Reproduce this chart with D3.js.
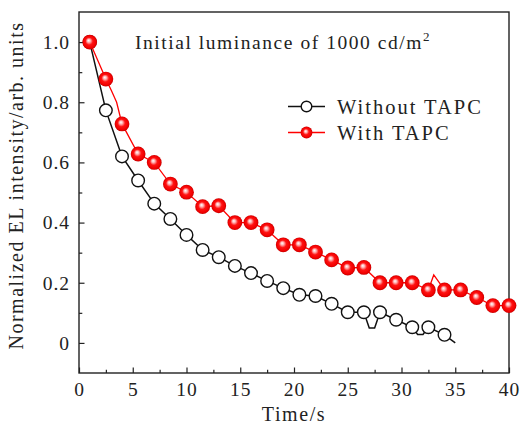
<!DOCTYPE html>
<html>
<head>
<meta charset="utf-8">
<script src="https://cdn.jsdelivr.net/npm/d3@7"></script>
<style>
  html, body { margin: 0; padding: 0; background: #fff; }
  svg { display: block; }
  text { font-family: "Liberation Serif", "Times New Roman", serif; fill: #222; }
</style>
</head>
<body>
<svg id="chart" width="520" height="429"></svg>
<script>
// ---- data ----
const times = [1, 2.5, 4, 5.5, 7, 8.5, 10, 11.5, 13, 14.5, 16, 17.5, 19, 20.5, 22, 23.5, 25, 26.5, 28, 29.5, 31, 32.5, 34, 35.5, 37, 38.5, 40];
const withTAPC = [1.0, 0.877, 0.728, 0.628, 0.6, 0.528, 0.501, 0.453, 0.456, 0.40, 0.40, 0.376, 0.326, 0.326, 0.302, 0.276, 0.249, 0.251, 0.2, 0.2, 0.2, 0.176, 0.176, 0.176, 0.151, 0.124, 0.124];
const withoutTAPC = [1.0, 0.773, 0.62, 0.54, 0.463, 0.412, 0.359, 0.309, 0.285, 0.256, 0.232, 0.206, 0.182, 0.16, 0.156, 0.13, 0.102, 0.102, 0.102, 0.077, 0.052, 0.052, 0.027];
// extra line vertices (between markers)
const withLineExtra = [[3, 0.84], [3.5, 0.80], [33, 0.226]];
const withoutLineExtra = [[27, 0.05], [27.5, 0.05], [31.5, 0.028], [32, 0.028], [35, 0.0]];
const seriesNames = ["Without TAPC", "With TAPC"];
const xTicks = [0, 5, 10, 15, 20, 25, 30, 35, 40];
const xTickLabels = ["0", "5", "10", "15", "20", "25", "30", "35", "40"];
const xMinor = [2.5, 7.5, 12.5, 17.5, 22.5, 27.5, 32.5, 37.5];
const yTicks = [0, 0.2, 0.4, 0.6, 0.8, 1.0];
const yTickLabels = ["0", "0.2", "0.4", "0.6", "0.8", "1.0"];
const yMinor = [0.1, 0.3, 0.5, 0.7, 0.9];
const xTitle = "Time/s";
const yTitle = "Normalized EL intensity/arb. units";
const annotation = "Initial luminance of 1000 cd/m";
const annotationSup = "2";

// ---- layout ----
const L = 79, R = 509, T = 12, B = 373;
const FONT = '"Liberation Serif", "Times New Roman", serif';
const svg = d3.select("#chart");
const x = d3.scaleLinear().domain([0, 40]).range([L, R]);
const y = d3.scaleLinear().domain([-0.1, 1.1]).range([B, T]);

const defs = svg.append("defs");
const g = defs.append("radialGradient").attr("id", "ball")
  .attr("cx", "50%").attr("cy", "50%").attr("r", "50%").attr("fx", "42%").attr("fy", "38%");
g.append("stop").attr("offset", "0%").attr("stop-color", "#ffffff");
g.append("stop").attr("offset", "22%").attr("stop-color", "#ffb4b4");
g.append("stop").attr("offset", "50%").attr("stop-color", "#ff1212");
g.append("stop").attr("offset", "85%").attr("stop-color", "#f00000");
g.append("stop").attr("offset", "100%").attr("stop-color", "#c40000");

// axes (inward ticks)
const fmtX = (d) => xTickLabels[xTicks.indexOf(d)];
const fmtY = (d) => yTickLabels[yTicks.indexOf(d)];

const ax = svg.append("g").attr("transform", `translate(0,${B})`)
  .call(d3.axisBottom(x).tickValues(xTicks).tickFormat(fmtX).tickSizeInner(-5.5).tickSizeOuter(0).tickPadding(9));
const axm = svg.append("g").attr("transform", `translate(0,${B})`)
  .call(d3.axisBottom(x).tickValues(xMinor).tickFormat("").tickSizeInner(-3.3).tickSizeOuter(0));
const ay = svg.append("g").attr("transform", `translate(${L},0)`)
  .call(d3.axisLeft(y).tickValues(yTicks).tickFormat(fmtY).tickSizeInner(-5.5).tickSizeOuter(0).tickPadding(9));
const aym = svg.append("g").attr("transform", `translate(${L},0)`)
  .call(d3.axisLeft(y).tickValues(yMinor).tickFormat("").tickSizeInner(-3.3).tickSizeOuter(0));
[ax, axm, ay, aym].forEach(a => {
  a.attr("font-family", FONT);
  a.select(".domain").remove();
  a.selectAll(".tick line").attr("stroke", "#222").attr("stroke-width", 1.2);
  a.selectAll(".tick text").style("font-family", FONT).style("font-size", "19.5px").style("letter-spacing", "1px").attr("fill", "#222");
});
ax.selectAll(".tick text").attr("dy", "0.71em");

// frame
svg.append("rect").attr("x", L).attr("y", T).attr("width", R - L).attr("height", B - T)
  .attr("fill", "none").attr("stroke", "#222").attr("stroke-width", 1.4);

// lines
const line = d3.line().x(d => x(d[0])).y(d => y(d[1]));
const withoutPts = withoutTAPC.map((v, i) => [times[i], v]).concat(withoutLineExtra).sort((a, b) => a[0] - b[0]);
const withPts = withTAPC.map((v, i) => [times[i], v]).concat(withLineExtra).sort((a, b) => a[0] - b[0]);

svg.append("path").datum(withoutPts).attr("d", line)
  .attr("fill", "none").attr("stroke", "#111").attr("stroke-width", 1.5);
svg.append("g").selectAll("circle").data(withoutTAPC).join("circle")
  .attr("cx", (d, i) => x(times[i])).attr("cy", d => y(d)).attr("r", 6.3)
  .attr("fill", "#fff").attr("stroke", "#111").attr("stroke-width", 1.4);

svg.append("path").datum(withPts).attr("d", line)
  .attr("fill", "none").attr("stroke", "#ff0000").attr("stroke-width", 1.3);
svg.append("g").selectAll("circle").data(withTAPC).join("circle")
  .attr("cx", (d, i) => x(times[i])).attr("cy", d => y(d)).attr("r", 7.4)
  .attr("fill", "url(#ball)");

// annotation
const ann = svg.append("text").attr("x", 135).attr("y", 49)
  .style("font-family", FONT).style("font-size", "19.5px").style("letter-spacing", "1.55px");
ann.append("tspan").text(annotation);
ann.append("tspan").attr("dy", -8).style("font-size", "13px").text(annotationSup);

// legend
const legY = [106.5, 132.5];
const lg = svg.append("g");
lg.append("line").attr("x1", 288).attr("x2", 325).attr("y1", legY[0]).attr("y2", legY[0]).attr("stroke", "#111").attr("stroke-width", 1.5);
lg.append("circle").attr("cx", 306.5).attr("cy", legY[0]).attr("r", 5.3).attr("fill", "#fff").attr("stroke", "#111").attr("stroke-width", 1.4);
lg.append("line").attr("x1", 288).attr("x2", 325).attr("y1", legY[1]).attr("y2", legY[1]).attr("stroke", "#ff0000").attr("stroke-width", 1.3);
lg.append("circle").attr("cx", 306.5).attr("cy", legY[1]).attr("r", 5.9).attr("fill", "url(#ball)");
seriesNames.forEach((n, i) => {
  lg.append("text").attr("x", 337).attr("y", legY[i] + 7)
    .style("font-family", FONT).style("font-size", "20.5px").style("letter-spacing", "2px").text(n);
});

// axis titles
svg.append("text").attr("x", (L + R) / 2).attr("y", 421).attr("text-anchor", "middle")
  .style("font-family", FONT).style("font-size", "20px").style("letter-spacing", "1.6px").text(xTitle);
svg.append("text").attr("transform", `translate(23,${(T + B) / 2 - 7}) rotate(-90)`).attr("text-anchor", "middle")
  .style("font-family", FONT).style("font-size", "20px").style("letter-spacing", "1.5px").text(yTitle);
</script>
</body>
</html>
